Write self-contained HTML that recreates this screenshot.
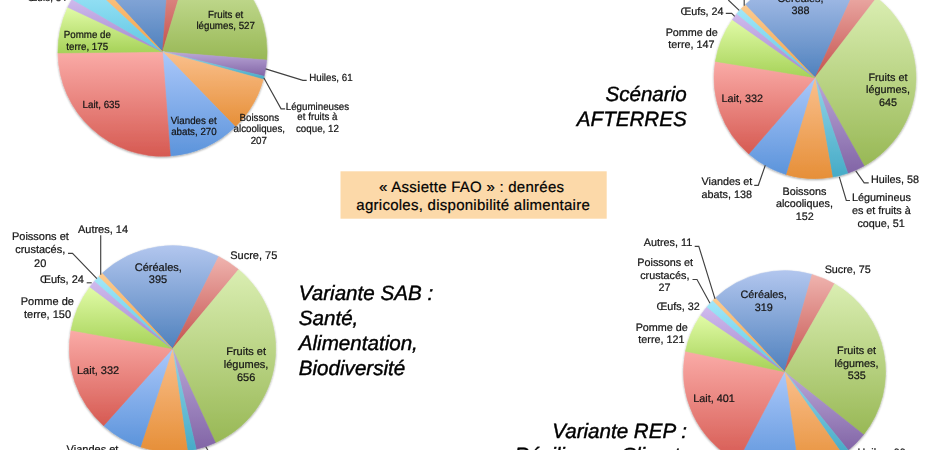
<!DOCTYPE html>
<html lang="fr"><head><meta charset="utf-8"><title>Assiette FAO</title>
<style>html,body{margin:0;padding:0;background:#fff}body{width:930px;height:450px;overflow:hidden}svg{display:block}text{font-family:"Liberation Sans",Arial,Helvetica,sans-serif;text-anchor:middle;text-rendering:geometricPrecision}.l{fill:#161616;stroke:#161616;stroke-width:0.22px}.f1{font-size:9.75px}.f2{font-size:10.8px}.f3{font-size:11.0px}.f4{font-size:10.8px}.b{font-size:20.6px;font-style:italic;fill:#000;stroke:#000;stroke-width:0.42px}.c{font-size:15.0px;letter-spacing:0.26px;fill:#000;stroke:#000;stroke-width:0.2px}.ld{fill:none;stroke:#404040;stroke-width:1.15}</style></head><body>
<svg width="930" height="450" viewBox="0 0 930 450">
<defs>
<linearGradient id="g0" x1="0" y1="0" x2="0" y2="1"><stop offset="0" stop-color="#B2C6EE"/><stop offset="1" stop-color="#4F81BD"/></linearGradient>
<linearGradient id="g1" x1="0" y1="0" x2="0" y2="1"><stop offset="0" stop-color="#EFB3AE"/><stop offset="1" stop-color="#C4514D"/></linearGradient>
<linearGradient id="g2" x1="0" y1="0" x2="0" y2="1"><stop offset="0" stop-color="#DAEEB2"/><stop offset="1" stop-color="#98B855"/></linearGradient>
<linearGradient id="g3" x1="0" y1="0" x2="0" y2="1"><stop offset="0" stop-color="#BBA8D8"/><stop offset="1" stop-color="#8265A6"/></linearGradient>
<linearGradient id="g4" x1="0" y1="0" x2="0" y2="1"><stop offset="0" stop-color="#93D5E8"/><stop offset="1" stop-color="#46ABC7"/></linearGradient>
<linearGradient id="g5" x1="0" y1="0" x2="0" y2="1"><stop offset="0" stop-color="#FAC08D"/><stop offset="1" stop-color="#E68F38"/></linearGradient>
<linearGradient id="g6" x1="0" y1="0" x2="0" y2="1"><stop offset="0" stop-color="#ABC8FA"/><stop offset="1" stop-color="#5C94DB"/></linearGradient>
<linearGradient id="g7" x1="0" y1="0" x2="0" y2="1"><stop offset="0" stop-color="#FAABA7"/><stop offset="1" stop-color="#D65A52"/></linearGradient>
<linearGradient id="g8" x1="0" y1="0" x2="0" y2="1"><stop offset="0" stop-color="#E1FBA7"/><stop offset="1" stop-color="#A6D258"/></linearGradient>
<linearGradient id="g9" x1="0" y1="0" x2="0" y2="1"><stop offset="0" stop-color="#CFBAED"/><stop offset="1" stop-color="#A388CE"/></linearGradient>
<linearGradient id="g10" x1="0" y1="0" x2="0" y2="1"><stop offset="0" stop-color="#A2E7F9"/><stop offset="1" stop-color="#60C6E2"/></linearGradient>
<linearGradient id="g11" x1="0" y1="0" x2="0" y2="1"><stop offset="0" stop-color="#FCCB90"/><stop offset="1" stop-color="#F4A348"/></linearGradient>
<filter id="sh" x="-5%" y="-5%" width="110%" height="112%"><feGaussianBlur in="SourceAlpha" stdDeviation="1.1"/><feOffset dx="0" dy="1"/><feComponentTransfer><feFuncA type="linear" slope="0.38"/></feComponentTransfer><feMerge><feMergeNode/><feMergeNode in="SourceGraphic"/></feMerge></filter>
</defs>
<g id="p1" filter="url(#sh)">
<path d="M162.50,51.70L91.43,-25.05A104.6,104.6 0 0 1 170.48,-52.60Z" fill="url(#g0)" stroke="url(#g0)" stroke-width="0.5" stroke-linejoin="round"/>
<path d="M162.50,51.70L170.48,-52.60A104.6,104.6 0 0 1 192.92,-48.38Z" fill="url(#g1)" stroke="url(#g1)" stroke-width="0.5" stroke-linejoin="round"/>
<path d="M162.50,51.70L192.92,-48.38A104.6,104.6 0 0 1 266.76,60.08Z" fill="url(#g2)" stroke="url(#g2)" stroke-width="0.5" stroke-linejoin="round"/>
<path d="M162.50,51.70L266.76,60.08A104.6,104.6 0 0 1 264.17,76.27Z" fill="url(#g3)" stroke="url(#g3)" stroke-width="0.5" stroke-linejoin="round"/>
<path d="M162.50,51.70L264.17,76.27A104.6,104.6 0 0 1 263.37,79.40Z" fill="url(#g4)" stroke="url(#g4)" stroke-width="0.5" stroke-linejoin="round"/>
<path d="M162.50,51.70L263.37,79.40A104.6,104.6 0 0 1 235.33,126.78Z" fill="url(#g5)" stroke="url(#g5)" stroke-width="0.5" stroke-linejoin="round"/>
<path d="M162.50,51.70L235.33,126.78A104.6,104.6 0 0 1 170.39,156.00Z" fill="url(#g6)" stroke="url(#g6)" stroke-width="0.5" stroke-linejoin="round"/>
<path d="M162.50,51.70L170.39,156.00A104.6,104.6 0 0 1 57.91,53.00Z" fill="url(#g7)" stroke="url(#g7)" stroke-width="0.5" stroke-linejoin="round"/>
<path d="M162.50,51.70L57.91,53.00A104.6,104.6 0 0 1 67.77,7.35Z" fill="url(#g8)" stroke="url(#g8)" stroke-width="0.5" stroke-linejoin="round"/>
<path d="M162.50,51.70L67.77,7.35A104.6,104.6 0 0 1 72.00,-0.76Z" fill="url(#g9)" stroke="url(#g9)" stroke-width="0.5" stroke-linejoin="round"/>
<path d="M162.50,51.70L72.00,-0.76A104.6,104.6 0 0 1 85.72,-19.34Z" fill="url(#g10)" stroke="url(#g10)" stroke-width="0.5" stroke-linejoin="round"/>
<path d="M162.50,51.70L85.72,-19.34A104.6,104.6 0 0 1 91.43,-25.05Z" fill="url(#g11)" stroke="url(#g11)" stroke-width="0.5" stroke-linejoin="round"/>
</g>
<g id="p2" filter="url(#sh)">
<path d="M815.00,77.65L745.22,4.63A101.0,101.0 0 0 1 856.78,-14.30Z" fill="url(#g0)" stroke="url(#g0)" stroke-width="0.5" stroke-linejoin="round"/>
<path d="M815.00,77.65L856.78,-14.30A101.0,101.0 0 0 1 876.63,-2.36Z" fill="url(#g1)" stroke="url(#g1)" stroke-width="0.5" stroke-linejoin="round"/>
<path d="M815.00,77.65L876.63,-2.36A101.0,101.0 0 0 1 864.16,165.88Z" fill="url(#g2)" stroke="url(#g2)" stroke-width="0.5" stroke-linejoin="round"/>
<path d="M815.00,77.65L864.16,165.88A101.0,101.0 0 0 1 847.78,173.18Z" fill="url(#g3)" stroke="url(#g3)" stroke-width="0.5" stroke-linejoin="round"/>
<path d="M815.00,77.65L847.78,173.18A101.0,101.0 0 0 1 832.51,177.12Z" fill="url(#g4)" stroke="url(#g4)" stroke-width="0.5" stroke-linejoin="round"/>
<path d="M815.00,77.65L832.51,177.12A101.0,101.0 0 0 1 785.96,174.39Z" fill="url(#g5)" stroke="url(#g5)" stroke-width="0.5" stroke-linejoin="round"/>
<path d="M815.00,77.65L785.96,174.39A101.0,101.0 0 0 1 748.81,153.94Z" fill="url(#g6)" stroke="url(#g6)" stroke-width="0.5" stroke-linejoin="round"/>
<path d="M815.00,77.65L748.81,153.94A101.0,101.0 0 0 1 715.31,61.42Z" fill="url(#g7)" stroke="url(#g7)" stroke-width="0.5" stroke-linejoin="round"/>
<path d="M815.00,77.65L715.31,61.42A101.0,101.0 0 0 1 732.33,19.63Z" fill="url(#g8)" stroke="url(#g8)" stroke-width="0.5" stroke-linejoin="round"/>
<path d="M815.00,77.65L732.33,19.63A101.0,101.0 0 0 1 736.81,13.71Z" fill="url(#g9)" stroke="url(#g9)" stroke-width="0.5" stroke-linejoin="round"/>
<path d="M815.00,77.65L736.81,13.71A101.0,101.0 0 0 1 741.09,8.82Z" fill="url(#g10)" stroke="url(#g10)" stroke-width="0.5" stroke-linejoin="round"/>
<path d="M815.00,77.65L741.09,8.82A101.0,101.0 0 0 1 745.22,4.63Z" fill="url(#g11)" stroke="url(#g11)" stroke-width="0.5" stroke-linejoin="round"/>
</g>
<g id="p3" filter="url(#sh)">
<path d="M172.50,348.80L102.12,273.32A103.2,103.2 0 0 1 218.71,256.53Z" fill="url(#g0)" stroke="url(#g0)" stroke-width="0.5" stroke-linejoin="round"/>
<path d="M172.50,348.80L218.71,256.53A103.2,103.2 0 0 1 238.59,269.54Z" fill="url(#g1)" stroke="url(#g1)" stroke-width="0.5" stroke-linejoin="round"/>
<path d="M172.50,348.80L238.59,269.54A103.2,103.2 0 0 1 215.44,442.64Z" fill="url(#g2)" stroke="url(#g2)" stroke-width="0.5" stroke-linejoin="round"/>
<path d="M172.50,348.80L215.44,442.64A103.2,103.2 0 0 1 196.26,449.23Z" fill="url(#g3)" stroke="url(#g3)" stroke-width="0.5" stroke-linejoin="round"/>
<path d="M172.50,348.80L196.26,449.23A103.2,103.2 0 0 1 187.53,450.90Z" fill="url(#g4)" stroke="url(#g4)" stroke-width="0.5" stroke-linejoin="round"/>
<path d="M172.50,348.80L187.53,450.90A103.2,103.2 0 0 1 140.51,446.92Z" fill="url(#g5)" stroke="url(#g5)" stroke-width="0.5" stroke-linejoin="round"/>
<path d="M172.50,348.80L140.51,446.92A103.2,103.2 0 0 1 103.65,425.68Z" fill="url(#g6)" stroke="url(#g6)" stroke-width="0.5" stroke-linejoin="round"/>
<path d="M172.50,348.80L103.65,425.68A103.2,103.2 0 0 1 70.98,330.26Z" fill="url(#g7)" stroke="url(#g7)" stroke-width="0.5" stroke-linejoin="round"/>
<path d="M172.50,348.80L70.98,330.26A103.2,103.2 0 0 1 89.84,287.01Z" fill="url(#g8)" stroke="url(#g8)" stroke-width="0.5" stroke-linejoin="round"/>
<path d="M172.50,348.80L89.84,287.01A103.2,103.2 0 0 1 94.62,281.08Z" fill="url(#g9)" stroke="url(#g9)" stroke-width="0.5" stroke-linejoin="round"/>
<path d="M172.50,348.80L94.62,281.08A103.2,103.2 0 0 1 98.93,276.42Z" fill="url(#g10)" stroke="url(#g10)" stroke-width="0.5" stroke-linejoin="round"/>
<path d="M172.50,348.80L98.93,276.42A103.2,103.2 0 0 1 102.12,273.32Z" fill="url(#g11)" stroke="url(#g11)" stroke-width="0.5" stroke-linejoin="round"/>
</g>
<g id="p4" filter="url(#sh)">
<path d="M784.50,371.70L715.42,297.88A101.1,101.1 0 0 1 812.07,274.43Z" fill="url(#g0)" stroke="url(#g0)" stroke-width="0.5" stroke-linejoin="round"/>
<path d="M784.50,371.70L812.07,274.43A101.1,101.1 0 0 1 834.55,283.86Z" fill="url(#g1)" stroke="url(#g1)" stroke-width="0.5" stroke-linejoin="round"/>
<path d="M784.50,371.70L834.55,283.86A101.1,101.1 0 0 1 863.63,434.63Z" fill="url(#g2)" stroke="url(#g2)" stroke-width="0.5" stroke-linejoin="round"/>
<path d="M784.50,371.70L863.63,434.63A101.1,101.1 0 0 1 848.30,450.13Z" fill="url(#g3)" stroke="url(#g3)" stroke-width="0.5" stroke-linejoin="round"/>
<path d="M784.50,371.70L848.30,450.13A101.1,101.1 0 0 1 842.58,454.45Z" fill="url(#g4)" stroke="url(#g4)" stroke-width="0.5" stroke-linejoin="round"/>
<path d="M784.50,371.70L842.58,454.45A101.1,101.1 0 0 1 799.06,471.75Z" fill="url(#g5)" stroke="url(#g5)" stroke-width="0.5" stroke-linejoin="round"/>
<path d="M784.50,371.70L799.06,471.75A101.1,101.1 0 0 1 737.74,461.33Z" fill="url(#g6)" stroke="url(#g6)" stroke-width="0.5" stroke-linejoin="round"/>
<path d="M784.50,371.70L737.74,461.33A101.1,101.1 0 0 1 685.47,351.34Z" fill="url(#g7)" stroke="url(#g7)" stroke-width="0.5" stroke-linejoin="round"/>
<path d="M784.50,371.70L685.47,351.34A101.1,101.1 0 0 1 700.65,315.21Z" fill="url(#g8)" stroke="url(#g8)" stroke-width="0.5" stroke-linejoin="round"/>
<path d="M784.50,371.70L700.65,315.21A101.1,101.1 0 0 1 706.92,306.88Z" fill="url(#g9)" stroke="url(#g9)" stroke-width="0.5" stroke-linejoin="round"/>
<path d="M784.50,371.70L706.92,306.88A101.1,101.1 0 0 1 712.85,300.38Z" fill="url(#g10)" stroke="url(#g10)" stroke-width="0.5" stroke-linejoin="round"/>
<path d="M784.50,371.70L712.85,300.38A101.1,101.1 0 0 1 715.42,297.88Z" fill="url(#g11)" stroke="url(#g11)" stroke-width="0.5" stroke-linejoin="round"/>
</g>
<rect x="340.5" y="171.3" width="266.2" height="47.4" fill="#FCD9A9"/>
<text class="c" x="471.7" y="192.0">« Assiette FAO » : denrées</text>
<text class="c" x="473.2" y="210.0">agricoles, disponibilité alimentaire</text>
<polyline class="ld" points="265.6,68.9 302.9,80.4 306.7,80.4"/>
<polyline class="ld" points="263.8,77.8 281.1,108.9 285.1,108.9"/>
<polyline class="ld" points="725.8,13.3 731.7,13.3 734.7,16.3"/>
<polyline class="ld" points="728.3,0.0 739.2,10.3"/>
<polyline class="ld" points="744.2,0.0 744.2,5.8"/>
<polyline class="ld" points="754.2,185.3 758.3,185.3 765.3,165.2"/>
<polyline class="ld" points="855.8,170.8 864.2,182.8 868.7,182.8"/>
<polyline class="ld" points="839.3,176.8 846.3,200.5 850.0,200.5"/>
<polyline class="ld" points="100.7,235.3 100.7,274.7"/>
<polyline class="ld" points="68.0,253.3 72.5,253.3 96.9,278.6"/>
<polyline class="ld" points="86.7,282.8 91.7,282.8"/>
<polyline class="ld" points="205.8,446.7 208.0,450.5"/>
<polyline class="ld" points="694.7,246.3 698.8,246.3 715.0,298.8"/>
<polyline class="ld" points="692.5,279.5 697.0,279.5 710.0,303.2"/>
<g class="l f1" opacity="0.999">
<text x="47.0" y="0.8" transform="matrix(1 0 0 1.06 0 -0.048)">Œufs, 34</text>
<text x="225.7" y="17.5" transform="matrix(1 0 0 1.06 0 -1.050)">Fruits et</text>
<text x="225.7" y="28.8" transform="matrix(1 0 0 1.06 0 -1.728)">légumes, 527</text>
<text x="87.3" y="38.0" transform="matrix(1 0 0 1.06 0 -2.280)">Pomme de</text>
<text x="87.2" y="49.8" transform="matrix(1 0 0 1.06 0 -2.988)">terre, 175</text>
<text x="101.25" y="107.5" transform="matrix(1 0 0 1.06 0 -6.450)">Lait, 635</text>
<text x="193.75" y="124.2" transform="matrix(1 0 0 1.06 0 -7.452)">Viandes et</text>
<text x="193.9" y="134.7" transform="matrix(1 0 0 1.06 0 -8.082)">abats, 270</text>
<text x="259.3" y="121.2" transform="matrix(1 0 0 1.06 0 -7.272)">Boissons</text>
<text x="259.3" y="132.2" transform="matrix(1 0 0 1.06 0 -7.932)">alcooliques,</text>
<text x="258.8" y="143.7" transform="matrix(1 0 0 1.06 0 -8.622)">207</text>
<text x="330.9" y="80.7" transform="matrix(1 0 0 1.06 0 -4.842)">Huiles, 61</text>
<text x="317.45" y="109.6" transform="matrix(1 0 0 1.06 0 -6.576)">Légumineuses</text>
<text x="317.4" y="120.2" transform="matrix(1 0 0 1.06 0 -7.212)">et fruits à</text>
<text x="317.4" y="131.8" transform="matrix(1 0 0 1.06 0 -7.908)">coque, 12</text>
</g>
<g class="l f2" opacity="0.999">
<text x="800.4" y="1.7">Céréales,</text>
<text x="800.4" y="14.2">388</text>
<text x="702.0" y="14.5">Œufs, 24</text>
<text x="691.75" y="35.5">Pomme de</text>
<text x="691.4" y="48.0">terre, 147</text>
<text x="742.3" y="101.7">Lait, 332</text>
<text x="887.9" y="80.8">Fruits et</text>
<text x="888.0" y="93.0">légumes,</text>
<text x="888.1" y="105.8">645</text>
<text x="726.9" y="185.0">Viandes et</text>
<text x="726.7" y="197.5">abats, 138</text>
<text x="804.4" y="194.7">Boissons</text>
<text x="804.4" y="206.7">alcooliques,</text>
<text x="804.7" y="219.7">152</text>
<text x="895.0" y="182.8">Huiles, 58</text>
<text x="881.4" y="200.8">Légumineus</text>
<text x="881.3" y="213.7">es et fruits à</text>
<text x="881.1" y="226.7">coque, 51</text>
</g>
<g class="l f3" opacity="0.999">
<text x="103.0" y="233.0">Autres, 14</text>
<text x="40.4" y="240.0">Poissons et</text>
<text x="40.2" y="253.3">crustacés,</text>
<text x="40.2" y="267.0">20</text>
<text x="61.9" y="283.3">Œufs, 24</text>
<text x="47.3" y="304.7">Pomme de</text>
<text x="47.5" y="317.5">terre, 150</text>
<text x="158.3" y="270.5">Céréales,</text>
<text x="158.0" y="283.3">395</text>
<text x="253.75" y="258.8">Sucre, 75</text>
<text x="246.1" y="354.7">Fruits et</text>
<text x="246.1" y="367.6">légumes,</text>
<text x="246.1" y="381.2">656</text>
<text x="98.1" y="373.8">Lait, 332</text>
<text x="92.5" y="452.6">Viandes et</text>
</g>
<g class="l f4" opacity="0.999">
<text x="668.0" y="246.3">Autres, 11</text>
<text x="665.2" y="266.2">Poissons et</text>
<text x="664.8" y="279.2">crustacés,</text>
<text x="664.6" y="291.3">27</text>
<text x="678.1" y="310.0">Œufs, 32</text>
<text x="661.75" y="330.5">Pomme de</text>
<text x="661.4" y="343.0">terre, 121</text>
<text x="763.6" y="298.2">Céréales,</text>
<text x="763.75" y="310.5">319</text>
<text x="847.75" y="273.3">Sucre, 75</text>
<text x="856.6" y="353.8">Fruits et</text>
<text x="856.5" y="366.7">légumes,</text>
<text x="856.75" y="379.2">535</text>
<text x="714.0" y="401.9">Lait, 401</text>
<text x="881.5" y="456.0">Huiles, 66</text>
</g>
<g>
<text class="b" style="text-anchor:start" x="298.8" y="300.3">Variante SAB :</text>
<text class="b" style="text-anchor:start" x="298.8" y="325.1">Santé,</text>
<text class="b" style="text-anchor:start" x="298.8" y="349.8">Alimentation,</text>
<text class="b" style="text-anchor:start" x="298.8" y="374.6">Biodiversité</text>
<text class="b" style="text-anchor:end" x="686.7" y="100.7">Scénario</text>
<text class="b" style="text-anchor:end" x="686.7" y="125.6">AFTERRES</text>
<text class="b" style="text-anchor:end" x="686.9" y="437.5">Variante REP :</text>
<text class="b" style="text-anchor:end" x="685.1" y="462.4">Résilience, Climat,</text>
</g>
</svg></body></html>
